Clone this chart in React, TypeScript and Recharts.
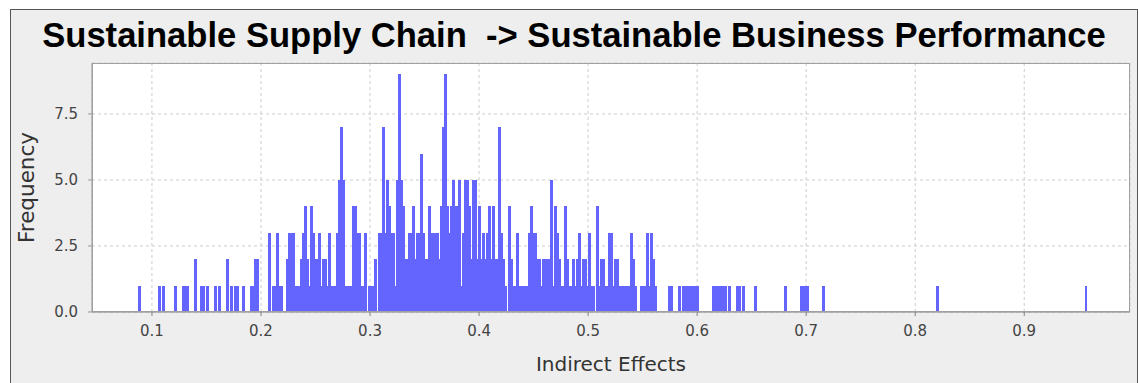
import { BarChart, Bar, XAxis, YAxis, CartesianGrid } from 'recharts';

// histogram bins: bin k is centred at BIN_START + k * BIN_WIDTH
const BIN_START = 0.0885;
const BIN_WIDTH = 0.001835;

// counts, bins 0..59
const countsLeft = [
  1, 0, 0, 0, 0, 0, 0, 0, 0, 0,
  1, 0, 1, 0, 0, 0, 0, 0, 1, 0,
  0, 0, 1, 1, 1, 0, 0, 0, 2, 0,
  0, 1, 1, 0, 1, 0, 0, 0, 1, 0,
  1, 0, 0, 0, 2, 0, 1, 0, 1, 1,
  0, 0, 1, 0, 0, 0, 1, 1, 2, 2,
];
// bins 60..119
const countsRise = [
  0, 0, 0, 0, 0, 3, 0, 1, 1, 3,
  1, 1, 0, 0, 2, 3, 3, 3, 1, 1,
  1, 2, 3, 4, 2, 1, 4, 3, 2, 2,
  3, 1, 2, 2, 1, 3, 1, 1, 1, 3,
  5, 7, 5, 1, 1, 1, 1, 4, 4, 3,
  3, 1, 1, 3, 0, 1, 1, 1, 2, 0,
];
// bins 120..179
const countsPeak = [
  3, 3, 7, 3, 5, 4, 3, 3, 1, 5,
  9, 5, 4, 2, 2, 3, 3, 4, 2, 3,
  3, 6, 3, 2, 2, 4, 3, 3, 3, 3,
  2, 4, 7, 9, 4, 3, 4, 5, 4, 4,
  5, 1, 3, 5, 5, 4, 2, 5, 5, 2,
  4, 2, 3, 2, 3, 4, 2, 4, 2, 2,
];
// bins 180..258
const countsFall = [
  7, 3, 2, 1, 0, 4, 2, 1, 1, 3,
  1, 1, 1, 1, 1, 3, 4, 3, 3, 2,
  2, 1, 2, 2, 2, 2, 5, 1, 4, 3,
  2, 1, 1, 4, 2, 1, 1, 2, 1, 2,
  3, 1, 2, 2, 1, 3, 1, 1, 0, 4,
  1, 2, 2, 1, 1, 3, 3, 1, 2, 2,
  1, 1, 1, 1, 1, 1, 3, 2, 1, 0,
  0, 1, 1, 1, 3, 1, 3, 2, 1,
];
// sparse right tail, one observation each
const tailBins = [
  265, 266, 270, 272, 273, 274, 275, 276, 277, 278, 279, 287, 288, 289, 290,
  291, 292, 293, 295, 299, 300, 302, 308, 323, 331, 332, 333, 334, 342, 399, 473,
];

const xTicks = [0.1, 0.2, 0.3, 0.4, 0.5, 0.6, 0.7, 0.8, 0.9];
const yTicks = [0, 2.5, 5, 7.5];

type Bin = { x: number; count: number };

const data: Bin[] = [];
const addSegment = (startBin: number, counts: number[]) => {
  counts.forEach((c, i) => {
    if (c > 0) data.push({ x: BIN_START + (startBin + i) * BIN_WIDTH, count: c });
  });
};
addSegment(0, countsLeft);
addSegment(60, countsRise);
addSegment(120, countsPeak);
addSegment(180, countsFall);
tailBins.forEach((k) => data.push({ x: BIN_START + k * BIN_WIDTH, count: 1 }));

const tickStyle = { fill: '#444', fontSize: 15, fontFamily: 'DejaVu Sans' };

// histogram bars: keep each bin wide enough that neighbouring bins touch
const BinBar = (props: any) => {
  const { x, y, width, height, fill } = props;
  if (!height || height <= 0) return null;
  const w = Math.max(width, 2.5);
  const cx = x + width / 2;
  return <rect x={cx - w / 2} y={y} width={w} height={height} fill={fill} shapeRendering="crispEdges" />;
};

export default function App() {
  return (
    <div style={{ position: 'absolute', left: 0, top: 0, width: 1138, height: 383, background: '#fff', overflow: 'hidden' }}>
      <div
        style={{
          position: 'absolute', left: 10, top: 9, width: 1128, height: 374,
          background: '#eeeeee', borderLeft: '1px solid #555', borderTop: '1px solid #555',
          borderRight: '1px solid #555', boxSizing: 'border-box',
        }}
      />
      <div
        style={{
          position: 'absolute', left: 10, top: 18, width: 1128, textAlign: 'center',
          fontFamily: 'Liberation Sans', fontWeight: 'bold', fontSize: 34.6, lineHeight: '34px',
          whiteSpace: 'pre', color: '#000',
        }}
      >
        {'Sustainable Supply Chain  -> Sustainable Business Performance'}
      </div>
      <div style={{ position: 'absolute', left: 0, top: 0 }}>
        <BarChart width={1138} height={383} data={data} margin={{ top: 63, right: 8, bottom: 0, left: 0 }} barCategoryGap={0}>
          <CartesianGrid stroke="#cccccc" strokeDasharray="3 3" fill="#ffffff" />
          <XAxis
            dataKey="x"
            type="number"
            domain={[0.045, 0.997]}
            ticks={xTicks}
            tickFormatter={(v: number) => v.toFixed(1)}
            height={71}
            tick={tickStyle}
            tickSize={4}
            tickMargin={9}
            stroke="#808080"
            allowDataOverflow
            label={{ value: 'Indirect Effects', position: 'insideBottom', offset: 12, style: { fill: '#333', fontSize: 20, fontFamily: 'DejaVu Sans' } }}
          />
          <YAxis
            type="number"
            domain={[0, 9.43]}
            ticks={yTicks}
            tickFormatter={(v: number) => v.toFixed(1)}
            width={92}
            tick={tickStyle}
            tickSize={4}
            tickMargin={10}
            stroke="#999999"
            allowDataOverflow
            label={{ value: 'Frequency', angle: -90, position: 'insideLeft', offset: 26, style: { textAnchor: 'middle', fill: '#333', fontSize: 21.5, fontFamily: 'DejaVu Sans' } }}
          />
          <Bar dataKey="count" fill="#6464ff" barSize={2} shape={BinBar} isAnimationActive={false} />
        </BarChart>
      </div>
      <div
        style={{
          position: 'absolute', left: 92, top: 63, width: 1038, height: 249,
          border: '1px solid #a0a0a0', boxSizing: 'border-box', pointerEvents: 'none',
        }}
      />
    </div>
  );
}
